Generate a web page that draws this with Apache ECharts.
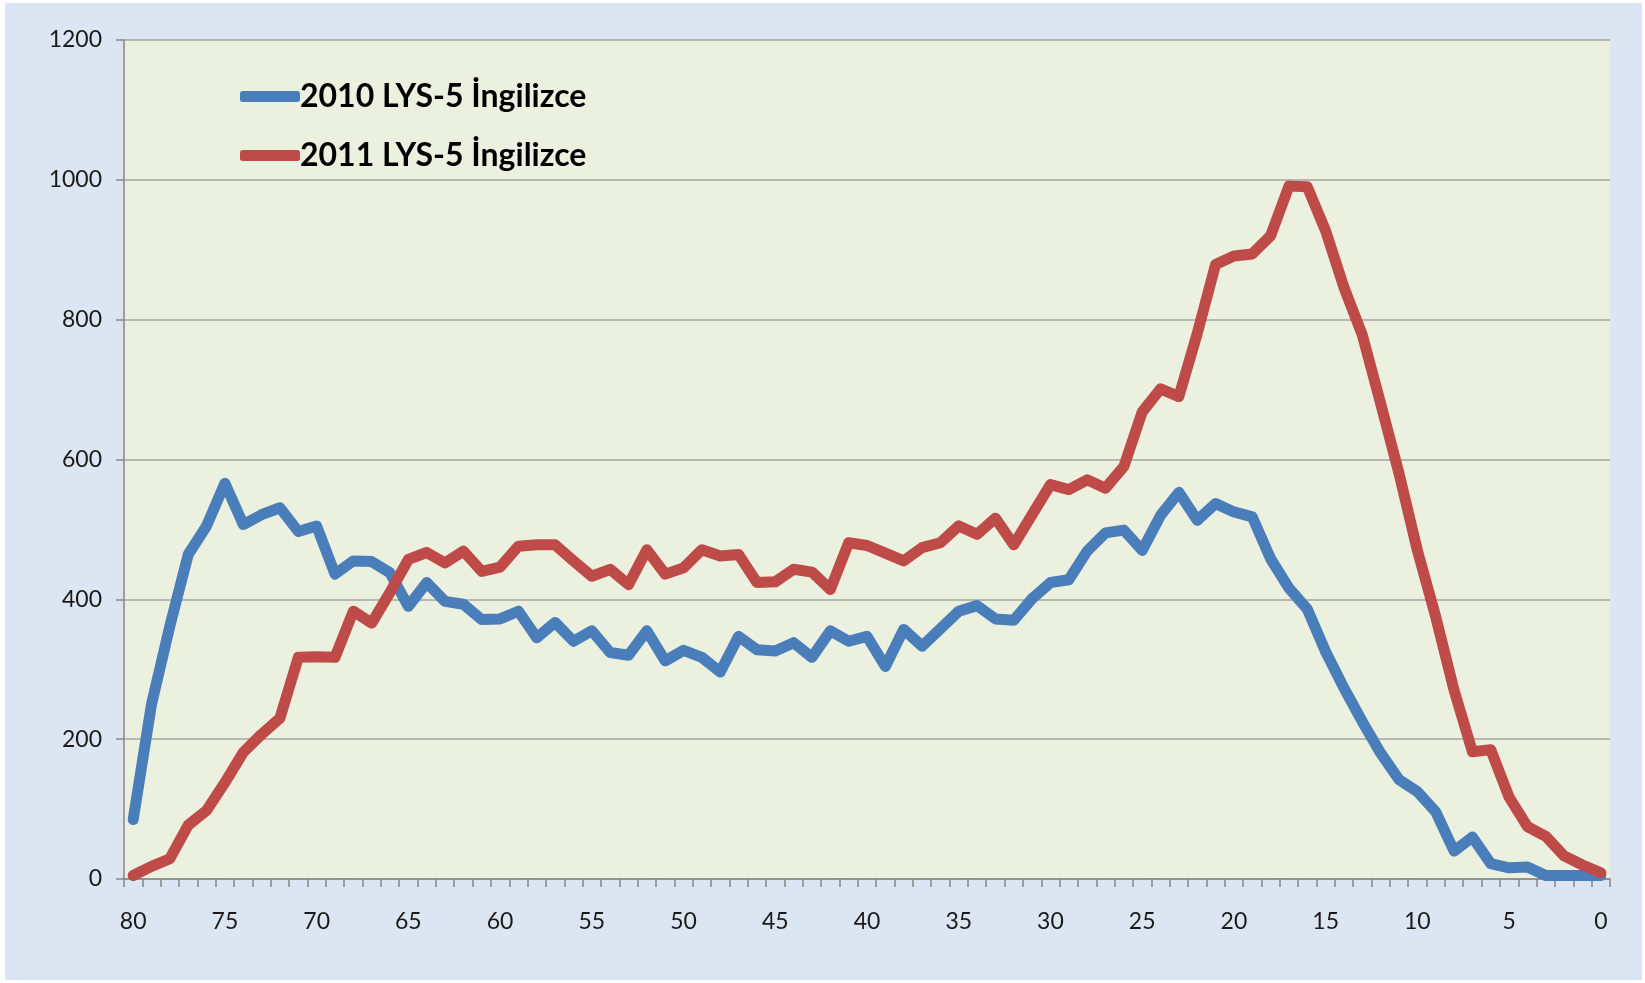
<!DOCTYPE html>
<html>
<head>
<meta charset="utf-8">
<script src="https://cdn.jsdelivr.net/npm/echarts@6/dist/echarts.min.js"></script>
<style>
  html, body { margin: 0; padding: 0; background: #ffffff; width: 1645px; height: 983px; overflow: hidden; }
  #chart { position: absolute; left: 5px; top: 3px; width: 1637px; height: 977px; }
</style>
</head>
<body>
<div id="chart"></div>
<script>
// Categories: scores from 80 down to 0
const categories = [];
for (let s = 80; s >= 0; s--) categories.push(String(s));

const seriesNames = ['2010 LYS-5 İngilizce', '2011 LYS-5 İngilizce'];

const values2010 = [
  85, 250, 362, 464, 505, 566, 507, 521, 531, 497,
  505, 436, 455, 454, 438, 390, 424, 397, 393, 371,
  372, 383, 345, 367, 340, 355, 324, 320, 355, 312,
  327, 317, 296, 347, 328, 326, 338, 317, 355, 340,
  347, 304, 357, 333, 358, 383, 391, 372, 370, 401,
  424, 428, 469, 495, 499, 470, 520, 553, 513, 537,
  525, 518, 458, 416, 386, 325, 273, 225, 180, 142,
  125, 96, 40, 60, 22, 16, 17, 5, 5, 5,
  5
];

const values2011 = [
  5, 18, 29, 77, 98, 138, 181, 207, 230, 317,
  318, 317, 383, 366, 410, 457, 467, 452, 469, 440,
  446, 476, 478, 478, 455, 433, 443, 421, 471, 436,
  445, 471, 462, 464, 424, 425, 443, 439, 414, 481,
  477, 466, 455, 474, 481, 505, 493, 516, 478, 521,
  564, 557, 571, 559, 590, 668, 701, 690, 780, 879,
  891, 894, 920, 991, 990, 927, 846, 778, 680, 580,
  470, 375, 270, 182, 185, 117, 75, 61, 33, 20,
  9
];

const yMin = 0, yMax = 1200, yStep = 200;

const chart = echarts.init(document.getElementById('chart'), null, { renderer: 'canvas' });
chart.setOption({
  animation: false,
  backgroundColor: '#DCE6F2',
  grid: {
    left: 119, top: 37, right: 32, bottom: 101,
    show: true, backgroundColor: '#EBF1DE', borderWidth: 0
  },
  legend: {
    orient: 'vertical',
    left: 230, top: 70,
    itemWidth: 60, itemHeight: 11,
    itemGap: 22,
    icon: 'roundRect',
    data: seriesNames,
    textStyle: {
      fontFamily: 'Lato', fontWeight: 'bold', fontSize: 32, color: '#000000',
      lineHeight: 37, padding: [0, 0, 0, -5]
    }
  },
  xAxis: {
    type: 'category',
    data: categories,
    boundaryGap: true,
    axisLine: { lineStyle: { color: '#868686', width: 1.5 } },
    axisTick: { show: true, interval: 0, length: 8, inside: false, lineStyle: { color: '#868686', width: 1.5 } },
    axisLabel: { interval: 4, margin: 31, fontFamily: 'Lato', fontSize: 23, color: '#1a1a1a' },
    splitLine: { show: false }
  },
  yAxis: {
    type: 'value',
    min: yMin, max: yMax, interval: yStep,
    axisLine: { show: true, lineStyle: { color: '#868686', width: 1.5 } },
    axisTick: { show: true, length: 8, lineStyle: { color: '#868686', width: 1.5 } },
    axisLabel: { margin: 22, fontFamily: 'Lato', fontSize: 23, color: '#1a1a1a', formatter: (v) => String(v) },
    splitLine: { show: true, lineStyle: { color: '#A3A3A3', width: 1.5 } }
  },
  series: [
    {
      name: seriesNames[0], type: 'line', data: values2010,
      showSymbol: false, symbol: 'none',
      lineStyle: { color: '#4A7EBB', width: 11, cap: 'round', join: 'round' },
      itemStyle: { color: '#4A7EBB' }
    },
    {
      name: seriesNames[1], type: 'line', data: values2011,
      showSymbol: false, symbol: 'none',
      lineStyle: { color: '#BE4B48', width: 11, cap: 'round', join: 'round' },
      itemStyle: { color: '#BE4B48' }
    }
  ]
});
</script>
</body>
</html>
